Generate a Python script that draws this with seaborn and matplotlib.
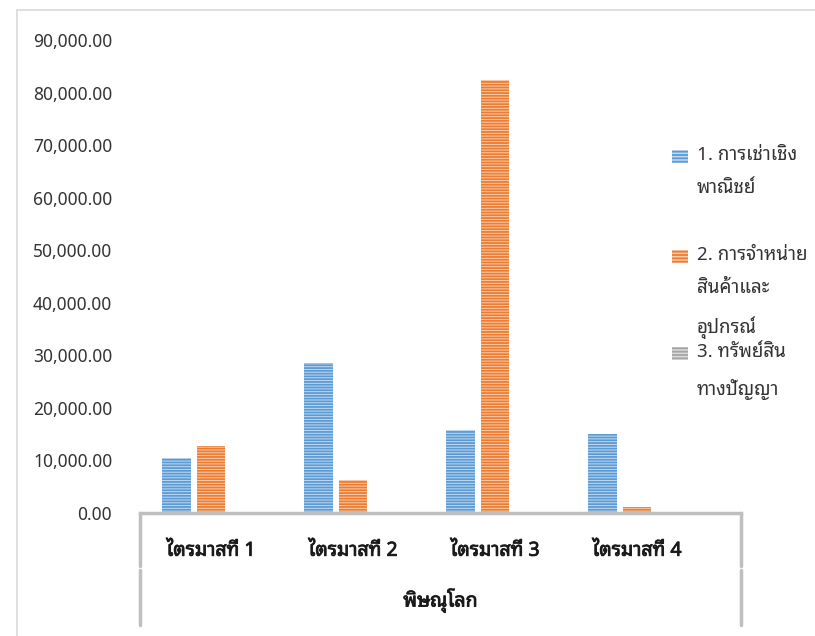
import matplotlib
matplotlib.use('Agg')
import matplotlib.pyplot as plt
import matplotlib.patheffects as pe
from matplotlib import font_manager, ft2font
from matplotlib.lines import Line2D
from matplotlib.patches import Rectangle
import seaborn as sns
import pandas as pd

quarters = ['ไตรมาสที่ 1', 'ไตรมาสที่ 2', 'ไตรมาสที่ 3', 'ไตรมาสที่ 4']
series = ['1. การเช่าเชิง\nพาณิชย์', '2. การจำหน่าย\nสินค้าและ\nอุปกรณ์', '3. ทรัพย์สิน\nทางปัญญา']
leasing = [10500, 28600, 15700, 15000]
sales = [12700, 6200, 82400, 1200]
ip = [0, 0, 0, 0]
city = 'พิษณุโลก'

dark = ['#5B9BD5', '#ED7D31', '#A5A5A5']
light = ['#C4DAF0', '#F8CDB0', '#DADADA']


# find a font that can draw Thai
def thai_font():
    names = []
    for f in font_manager.fontManager.ttflist:
        try:
            if ft2font.FT2Font(f.fname).get_char_index(ord('ก')):
                names.append(f.name)
        except Exception:
            pass
    for pref in ['Noto Sans Thai Looped', 'Noto Sans Thai', 'Tahoma', 'Leelawadee UI', 'Loma', 'Garuda']:
        if pref in names:
            return pref
    return names[0] if names else 'DejaVu Sans'


sns.set_style('white')
plt.rcParams['font.family'] = [thai_font(), 'DejaVu Sans']
plt.rcParams['hatch.linewidth'] = 1.3

df = pd.DataFrame({
    'quarter': quarters * 3,
    'series': [series[0]] * 4 + [series[1]] * 4 + [series[2]] * 4,
    'value': leasing + sales + ip,
})

fig = plt.figure(figsize=(8.15, 6.36), dpi=100)
ax = fig.add_axes([140 / 815, 1 - 513 / 636, 601 / 815, 473 / 636])

sns.barplot(data=df, x='quarter', y='value', hue='series', palette=dark,
            width=0.72, gap=0.15, legend=False, ax=ax)

for cont, d, l in zip(ax.containers, dark, light):
    for bar in cont:
        bar.set_facecolor(l)
        bar.set_edgecolor(d)
        bar.set_hatch('------')
        bar.set_linewidth(0)

bold = [pe.withStroke(linewidth=0.6, foreground='#1a1a1a')]

ax.set_ylim(0, 90000)
ax.set_xlim(-0.5, 601 / 142 - 0.5)
ax.set_yticks(range(0, 90001, 10000))
ax.set_yticklabels([f'{v:,.2f}' for v in range(0, 90001, 10000)], fontsize=12.5, color='#333333')
ax.tick_params(axis='y', length=0, pad=20)
ax.tick_params(axis='x', length=0, pad=20)
for lab in ax.get_xticklabels():
    lab.set_fontsize(14)
    lab.set_color('#1a1a1a')
    lab.set_path_effects(bold)
ax.set_xlabel(city, fontsize=14, color='#1a1a1a', labelpad=20, path_effects=bold)
ax.set_ylabel('')

for s in ['left', 'right', 'top']:
    ax.spines[s].set_visible(False)
ax.spines['bottom'].set_color('#BFBFBF')
ax.spines['bottom'].set_linewidth(2.5)

# multi-level category separators
for xpos in [0, 1]:
    ax.add_line(Line2D([xpos, xpos], [0, -53 / 473], transform=ax.transAxes,
                       color='#BFBFBF', lw=2.5, clip_on=False))
    ax.add_line(Line2D([xpos, xpos], [-57 / 473, -112 / 473], transform=ax.transAxes,
                       color='#BFBFBF', lw=2.5, clip_on=False))

# chart border
fig.add_artist(Line2D([17 / 815, 17 / 815], [0, 1 - 10 / 636], transform=fig.transFigure,
                      color='#D9D9D9', lw=1.2))
fig.add_artist(Line2D([17 / 815, 1], [1 - 10 / 636, 1 - 10 / 636], transform=fig.transFigure,
                      color='#D9D9D9', lw=1.2))

# legend
leg_y = [157, 257, 354]
for name, d, l, y in zip(series, dark, light, leg_y):
    fig.patches.append(Rectangle((672 / 815, 1 - (y + 6) / 636), 16 / 815, 13 / 636,
                                 transform=fig.transFigure, facecolor=l, edgecolor=d,
                                 hatch='-----', lw=0))
    fig.text(697 / 815, 1 - (y - 11) / 636, name, fontsize=13.5, color='#333333',
             va='top', ha='left', linespacing=2.1)

fig.savefig('out.png', dpi=100)
